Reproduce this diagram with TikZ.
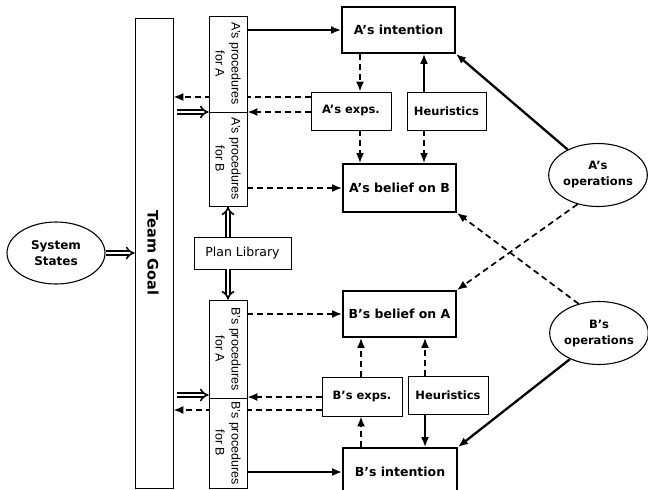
\documentclass[tikz,border=0pt]{standalone}
\usepackage{fontspec}
\setmainfont{Liberation Sans}
\newfontfamily\dvs{DejaVu Sans}
\usetikzlibrary{arrows.meta,shapes.geometric,calc}
\begin{document}
\begin{tikzpicture}[x=1pt,y=-1pt,
  thinbox/.style={draw, line width=0.8pt, inner sep=0pt, font=\dvs\fontsize{11.5}{13}\selectfont\bfseries},
  mainbox/.style={draw, line width=1.9pt, inner sep=0pt, minimum width=113pt, font=\dvs\fontsize{12.5}{14}\selectfont\bfseries},
  proc/.style={draw, fill=white, line width=0.7pt, inner sep=0pt, rotate=-90, align=center, minimum height=38pt, font=\fontsize{12.5}{16}\selectfont},
  ell/.style={draw, ellipse, line width=1.1pt, inner sep=0pt, minimum width=92pt, minimum height=63pt, align=center, font=\dvs\fontsize{11.5}{16}\selectfont\bfseries},
  sarr/.style={line width=1.7pt, -{Latex[length=10pt,width=8pt]}},
  darr/.style={line width=1.7pt, dash pattern=on 6pt off 4pt, -{Latex[length=10pt,width=8pt]}},
  dbl/.style={double, double distance=2.6pt, line width=1.6pt, -{Implies}}
]
\useasboundingbox (0,0) rectangle (648,490);

% main column
\node[draw, line width=0.8pt, minimum width=38pt, minimum height=470pt, inner sep=0pt] (goal) at (154,253) {};
\node[rotate=-90, font=\dvs\fontsize{14.5}{16}\selectfont\bfseries] (goaltext) at (153,253) {Team Goal};

% system states
\node[ell, minimum width=98pt, minimum height=62pt, font=\dvs\fontsize{12}{16}\selectfont\bfseries] (sys) at (56,253) {System\\States};

% A side boxes
\node[mainbox, minimum height=46pt] (Ai) at (398.5,30) {A’s intention};
\node[thinbox, minimum width=80pt, minimum height=38pt] (Ax) at (351,111) {A’s exps.};
\node[thinbox, minimum width=79pt, minimum height=38pt] (Ah) at (446.5,111) {Heuristics};
\node[mainbox, minimum height=48pt] (Ab) at (399.5,188) {A’s belief on B};

% B side boxes
\node[mainbox, minimum height=46pt] (Bb) at (399.5,314) {B’s belief on A};
\node[thinbox, minimum width=80pt, minimum height=39pt] (Bx) at (362,396.5) {B’s exps.};
\node[thinbox, minimum width=80pt, minimum height=38pt] (Bh) at (448,395) {Heuristics};
\node[draw, line width=1.9pt, inner sep=0pt, minimum width=114pt, minimum height=60pt] (Bi) at (400,478) {};
\node[font=\dvs\fontsize{12.5}{14}\selectfont\bfseries] (Bitext) at (400,472) {B’s intention};

% operations
\node[ell] (Aop) at (598,175) {A’s\\operations};
\node[ell] (Bop) at (599,333) {B’s\\operations};

% helper coordinates
\coordinate (ya1) at (0,97);
\coordinate (ya2) at (0,112);
\coordinate (yb1) at (0,397);
\coordinate (yb2) at (0,410);
\coordinate (xa) at (360,0);
\coordinate (xh) at (424,0);
\coordinate (xbx) at (361,0);
\coordinate (xbh) at (425,0);

% dashed lines to team goal (behind procedure columns)
\draw[darr] (Ax.west |- ya1) -- (goal.east |- ya1);
\draw[darr] (Bx.west |- yb2) -- (goal.east |- yb2);

% procedure columns
\node[proc, minimum width=96pt] (pA1) at (228,64) {A’s procedures\\for A};
\node[proc, minimum width=94pt] (pA2) at (228,159) {A’s procedures\\for B};
\node[draw, line width=0.8pt, inner sep=0pt, minimum width=97pt, minimum height=32pt, font=\dvs\fontsize{12.5}{14}\selectfont] (plan) at (242.5,253) {Plan Library};
\node[proc, minimum width=98pt] (pB1) at (228,349) {B’s procedures\\for A};
\node[proc, minimum width=90pt] (pB2) at (228,443) {B’s procedures\\for B};

% team goal / system states / plan library double arrows
\draw[dbl] (sys.east) -- (goal.west);
\draw[dbl] ($(goal.east |- ya2)+(4,0)$) -- (pA1.south |- ya2);
\draw[dbl] ($(goal.east |- yb1)+(4,-2)$) -- ($(pB1.south |- yb1)+(0,-2)$);
\draw[dbl] (plan.north -| pA2.center) -- (pA2.center |- pA2.east);
\draw[dbl] (plan.south -| pB1.center) -- (pB1.center |- pB1.west);

% A side connectors
\draw[darr] (Ax.west |- ya2) -- (pA1.north |- ya2);
\draw[sarr] (pA1.north |- Ai.west) -- (Ai.west);
\draw[darr] (pA2.north |- Ab.west) -- (Ab.west);
\draw[darr] (Ai.south -| xa) -- (Ax.north -| xa);
\draw[darr] (Ax.south -| xa) -- (Ab.north -| xa);
\draw[sarr] (Ah.north -| xh) -- (Ai.south -| xh);
\draw[darr] (Ah.south -| xh) -- (Ab.north -| xh);

% B side connectors
\draw[darr] (Bx.west |- yb1) -- (pB1.north |- yb1);
\draw[darr] (pB1.north |- Bb.west) -- (Bb.west);
\draw[sarr] (pB2.north |- Bitext.west) -- (Bi.west |- Bitext.west);
\draw[darr] (Bx.north -| xbx) -- (Bb.south -| xbx);
\draw[darr] (Bi.north -| xbx) -- (Bx.south -| xbx);
\draw[darr] (Bh.north -| xbh) -- (Bb.south -| xbh);
\draw[sarr] (Bh.south -| xbh) -- (Bi.north -| xbh);

% operations connectors
\draw[sarr, line width=2.3pt] (Aop.140) -- (Ai.south east);
\draw[darr] (Aop.235) -- (Bb.north east);
\draw[darr] (Bop.125) -- (Ab.south east);
\draw[sarr, line width=2.3pt] (Bop.222) -- (Bi.north east);
\end{tikzpicture}
\end{document}
